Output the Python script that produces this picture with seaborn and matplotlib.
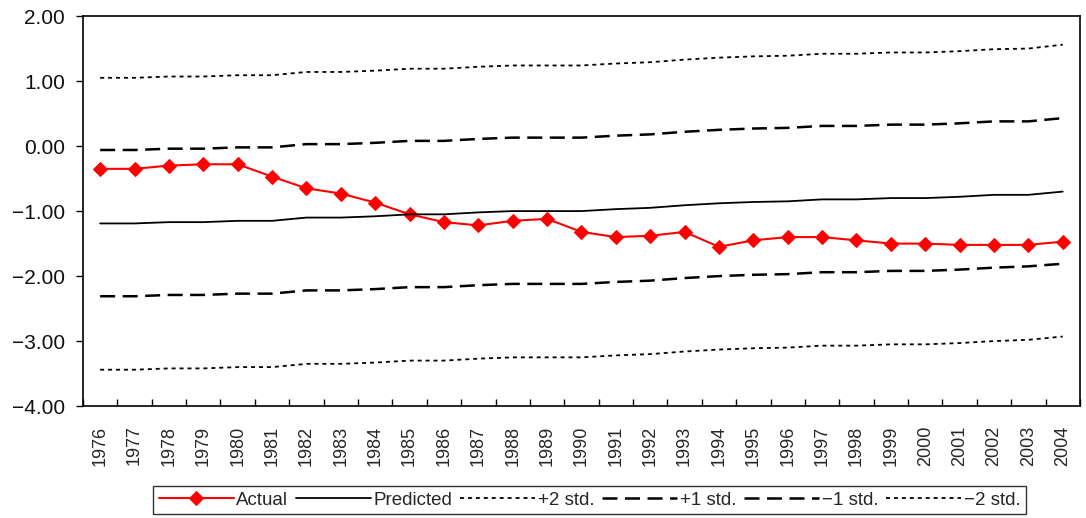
import numpy as np
import pandas as pd
import matplotlib
matplotlib.use("Agg")
import matplotlib.pyplot as plt
import seaborn as sns

years = [str(y) for y in range(1976, 2005)]

actual = [-0.35, -0.35, -0.30, -0.28, -0.28, -0.47, -0.65, -0.73, -0.87, -1.05,
          -1.17, -1.22, -1.15, -1.12, -1.32, -1.40, -1.38, -1.32, -1.55, -1.45,
          -1.40, -1.40, -1.45, -1.50, -1.50, -1.52, -1.52, -1.52, -1.47]
predicted = [-1.19, -1.19, -1.17, -1.17, -1.15, -1.15, -1.10, -1.10, -1.08, -1.05,
             -1.05, -1.02, -1.00, -1.00, -1.00, -0.97, -0.95, -0.91, -0.88, -0.86,
             -0.85, -0.82, -0.82, -0.80, -0.80, -0.78, -0.75, -0.75, -0.70]
plus2 = [1.05, 1.05, 1.07, 1.07, 1.09, 1.09, 1.14, 1.14, 1.16, 1.19,
         1.19, 1.22, 1.24, 1.24, 1.24, 1.27, 1.29, 1.33, 1.36, 1.38,
         1.39, 1.42, 1.42, 1.44, 1.44, 1.46, 1.49, 1.50, 1.56]
plus1 = [-0.06, -0.06, -0.04, -0.04, -0.02, -0.02, 0.03, 0.03, 0.05, 0.08,
         0.08, 0.11, 0.13, 0.13, 0.13, 0.16, 0.18, 0.22, 0.25, 0.27,
         0.28, 0.31, 0.31, 0.33, 0.33, 0.35, 0.38, 0.38, 0.43]
minus1 = [-2.31, -2.31, -2.29, -2.29, -2.27, -2.27, -2.22, -2.22, -2.20, -2.17,
          -2.17, -2.14, -2.12, -2.12, -2.12, -2.09, -2.07, -2.03, -2.00, -1.98,
          -1.97, -1.94, -1.94, -1.92, -1.92, -1.90, -1.87, -1.85, -1.81]
minus2 = [-3.44, -3.44, -3.42, -3.42, -3.40, -3.40, -3.35, -3.35, -3.33, -3.30,
          -3.30, -3.27, -3.25, -3.25, -3.25, -3.22, -3.20, -3.16, -3.13, -3.11,
          -3.10, -3.07, -3.07, -3.05, -3.05, -3.03, -3.00, -2.98, -2.93]

sns.set_style("white")
plt.rcParams['font.family'] = ['Liberation Sans', 'DejaVu Sans']

x = np.arange(len(years))

fig = plt.figure(figsize=(10.86, 5.18), dpi=100)
ax = fig.add_axes([0.0764, 0.216, 0.918, 0.753])

sns.lineplot(x=x, y=actual, ax=ax, color="red", lw=1.5, marker="D",
             markersize=7, markeredgecolor="red", label="Actual")
sns.lineplot(x=x, y=predicted, ax=ax, color="black", lw=1.3, label="Predicted")
sns.lineplot(x=x, y=plus2, ax=ax, color="black", lw=1.3, label="+2 std.")
sns.lineplot(x=x, y=plus1, ax=ax, color="black", lw=1.8, label="+1 std.")
sns.lineplot(x=x, y=minus1, ax=ax, color="black", lw=1.8, label="\u22121 std.")
sns.lineplot(x=x, y=minus2, ax=ax, color="black", lw=1.3, label="\u22122 std.")

lines = ax.get_lines()
for ln in (lines[2], lines[5]):
    ln.set_dashes([2.2, 2.2])
for ln in (lines[3], lines[4]):
    ln.set_dashes([6, 3])

ax.set_xlim(-0.5, len(years) - 0.5)
ax.set_ylim(-4, 2)
ax.set_yticks(np.arange(-4, 2.01, 1))
ax.set_yticklabels([f"{v:.2f}".replace("-", "\u2212") for v in np.arange(-4, 2.01, 1)],
                   fontsize=15, color="#111111")
ax.set_xticks(x)
ax.set_xticklabels(years, rotation=90, fontsize=13)
ax.set_xticks(np.arange(-0.5, len(years)), minor=True)
ax.tick_params(axis="x", which="major", bottom=True, length=0, pad=14)
ax.tick_params(axis="x", which="minor", bottom=True, length=5, width=1,
               color="black", direction="in")
ax.tick_params(axis="y", left=True, length=5, width=1, color="black",
               direction="out", pad=8)
for s in ax.spines.values():
    s.set_color("black")
    s.set_linewidth(1.2)
ax.grid(False)

leg = ax.legend(loc="upper center", bbox_to_anchor=(0.508, -0.205), ncol=6,
                frameon=True, fancybox=False, fontsize=13.5, handlelength=4.0,
                handletextpad=0.15, columnspacing=0.4, borderpad=0.3,
                borderaxespad=0)
leg.get_frame().set_edgecolor("black")
leg.get_frame().set_linewidth(1)

fig.savefig("out.png", dpi=100)
